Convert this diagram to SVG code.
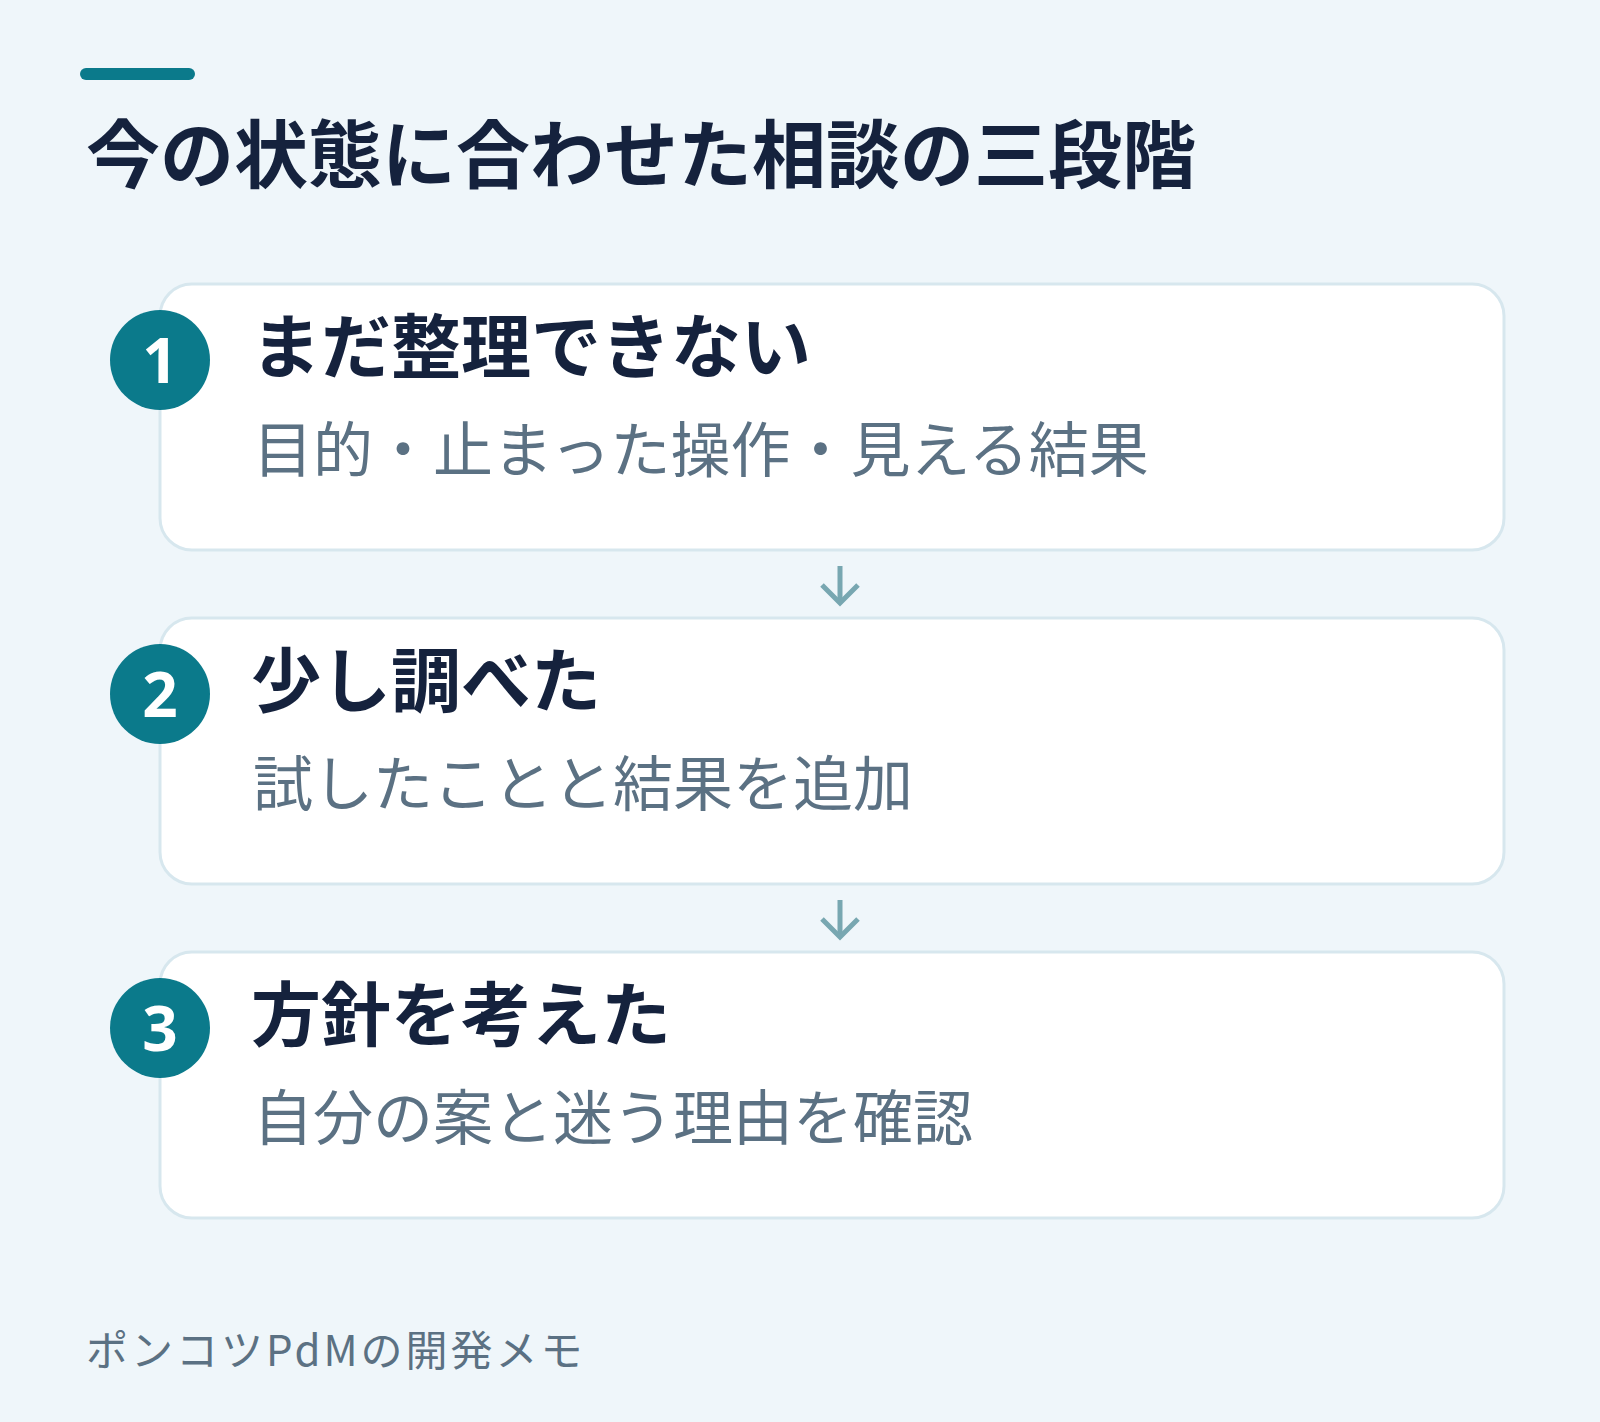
<svg xmlns="http://www.w3.org/2000/svg" width="1600" height="1422" viewBox="0 0 1600 1422">
<style>
.jp{font-family:"Noto Sans CJK JP","Noto Sans",sans-serif}
.card{fill:#ffffff;stroke:#d7e7ee;stroke-width:3}
.badge{fill:#0b7a8b}
.num{font-family:"Noto Sans","Noto Sans CJK JP",sans-serif;font-weight:700;font-size:62px;fill:#ffffff;text-anchor:middle}
.h{font-weight:700;font-size:70px;fill:#15223d}
.s{font-weight:400;font-size:60px;fill:#5b7183}
.arrow{fill:none;stroke:#78a7b1;stroke-width:5;stroke-linecap:butt}
</style>
<rect x="0" y="0" width="1600" height="1422" fill="#eff6fa"/>
<g id="header">
<rect x="80" y="68" width="115" height="12" rx="6" fill="#0b7a8b"/>
<text class="jp" x="86" y="182" font-size="74" font-weight="700" fill="#15223d">今の状態に合わせた相談の三段階</text>
</g>
<g id="connectors">
<g id="arrow1"><line class="arrow" x1="840" y1="566" x2="840" y2="603"/><polyline class="arrow" points="822,585 840,603 858,585"/></g>
<g id="arrow2"><line class="arrow" x1="840" y1="900" x2="840" y2="937"/><polyline class="arrow" points="822,919 840,937 858,919"/></g>
</g>
<g id="step1">
<rect class="card" x="160" y="284" width="1344" height="266" rx="32"/>
<circle class="badge" cx="160" cy="360" r="50"/>
<text class="num" x="160" y="383">1</text>
<text class="jp h" x="251" y="373">まだ整理できない</text>
<text class="jp s" x="253" y="472">目的・止まった操作・見える結果</text>
</g>
<g id="step2">
<rect class="card" x="160" y="618" width="1344" height="266" rx="32"/>
<circle class="badge" cx="160" cy="694" r="50"/>
<text class="num" x="160" y="717">2</text>
<text class="jp h" x="251" y="707">少し調べた</text>
<text class="jp s" x="253" y="806">試したことと結果を追加</text>
</g>
<g id="step3">
<rect class="card" x="160" y="952" width="1344" height="266" rx="32"/>
<circle class="badge" cx="160" cy="1028" r="50"/>
<text class="num" x="160" y="1051">3</text>
<text class="jp h" x="251" y="1041">方針を考えた</text>
<text class="jp s" x="253" y="1140">自分の案と迷う理由を確認</text>
</g>
<g id="footer">
<text class="jp" x="86" y="1366" font-size="42" letter-spacing="3" fill="#5b7183">ポンコツPdMの開発メモ</text>
</g>
</svg>
